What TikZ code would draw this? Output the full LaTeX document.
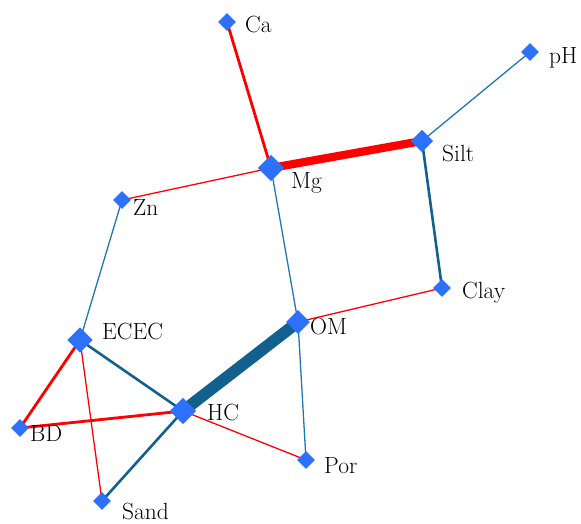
\documentclass[tikz,border=0pt]{standalone}
\usepackage{tikz}
\usetikzlibrary{shapes.geometric,backgrounds}
\usepackage{xcolor}

\definecolor{markblue}{RGB}{45,112,250}
\definecolor{linkblue}{RGB}{30,118,178}
\definecolor{strongblue}{RGB}{18,96,142}
\definecolor{linkred}{RGB}{255,0,0}

\begin{document}
\begin{tikzpicture}[
  x=0.03cm, y=-0.03cm,
  font=\fontsize{20}{24}\selectfont,
  var/.style={diamond, fill=markblue, inner sep=0pt, minimum size=0.54cm},
  bigvar/.style={var, minimum size=0.72cm},
  lbl/.style={anchor=west, inner sep=0pt},
  poslink/.style={draw=linkblue, line width=1.1pt},
  posmid/.style={draw=strongblue, line width=2.2pt},
  posbig/.style={draw=strongblue, line width=10pt},
  neglink/.style={draw=linkred, line width=1.1pt},
  negmid/.style={draw=linkred, line width=2.4pt},
  negbig/.style={draw=linkred, line width=7pt}
]
\useasboundingbox (0,0) rectangle (581,523);

% variables
\node[var] (ca) at (227,22) {};
\node[var] (ph) at (530,52) {};
\node[bigvar, minimum size=0.68cm] (silt) at (422,141) {};
\node[bigvar, minimum size=0.8cm] (mg) at (271,168) {};
\node[var] (zn) at (122,200) {};
\node[var] (clay) at (442,288) {};
\node[bigvar] (om) at (298,322) {};
\node[bigvar, minimum size=0.76cm] (ecec) at (80,340) {};
\node[bigvar, minimum size=0.8cm] (hc) at (183,411) {};
\node[var] (bd) at (20,428) {};
\node[var] (por) at (306,460) {};
\node[var] (sand) at (102,501) {};

% labels
\node[lbl] (lca) at (245,24) {Ca};
\node[lbl] (lph) at (549,58) {pH};
\node[lbl] (lsilt) at (442,153) {Silt};
\node[lbl] (lmg) at (291,183) {Mg};
\node[lbl] (lzn) at (133,207) {Zn};
\node[lbl] (lclay) at (462,293) {Clay};
\node[lbl] (lom) at (310,326) {OM};
\node[lbl] (lecec) at (102,331) {ECEC};
\node[lbl] (lhc) at (207,412) {HC};
\node[lbl] (lbd) at (30,433) {BD};
\node[lbl] (lpor) at (324,466) {Por};
\node[lbl] (lsand) at (122,511) {Sand};

% links
\begin{pgfonlayer}{background}
\draw[negmid] (ca.center) -- (mg.center);
\draw[poslink] (ph.center) -- (silt.center);
\draw[negbig] (mg.center) -- (silt.center);
\draw[posmid] (silt.center) -- (clay.center);
\draw[neglink] (mg.center) -- (zn.center);
\draw[poslink] (mg.center) -- (om.center);
\draw[poslink] (zn.center) -- (ecec.center);
\draw[neglink] (clay.center) -- (om.center);
\draw[posbig] (om.center) -- (hc.center);
\draw[poslink] (om.center) -- (por.center);
\draw[posmid] (ecec.center) -- (hc.center);
\draw[negmid] (ecec.center) -- (bd.center);
\draw[neglink] (ecec.center) -- (sand.center);
\draw[negmid] (bd.center) -- (hc.center);
\draw[neglink] (hc.center) -- (por.center);
\draw[posmid] (hc.center) -- (sand.center);
\end{pgfonlayer}
\end{tikzpicture}
\end{document}
